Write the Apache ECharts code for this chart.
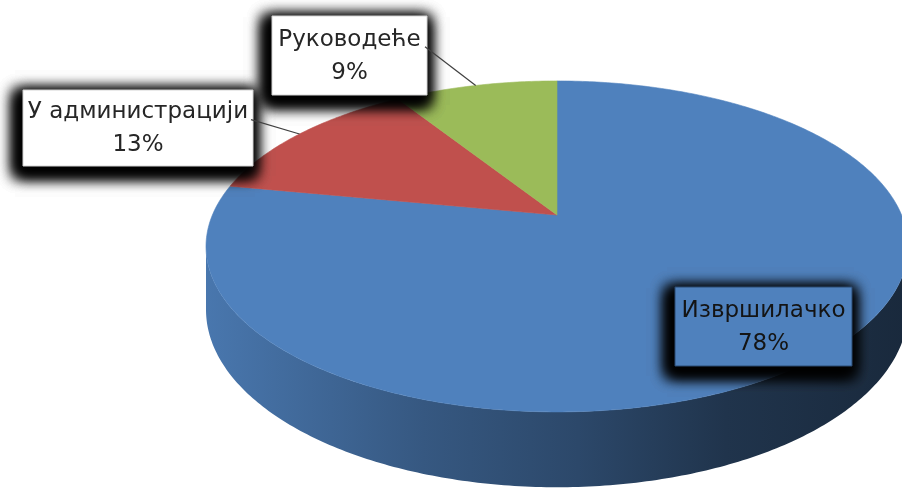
<!DOCTYPE html>
<html>
<head>
<meta charset="utf-8">
<script src="https://cdn.jsdelivr.net/npm/echarts/dist/echarts.min.js"></script>
<style>
  html, body { margin: 0; padding: 0; background: #ffffff; }
  #chart { width: 902px; height: 489px; }
</style>
</head>
<body>
<div id="chart"></div>
<script>
// Data
const categories = ['Извршилачко', 'У администрацији', 'Руководеће'];
const shares = [78, 13, 9];
const sliceColors = ['#4f81bd', '#c0504d', '#9bbb59'];

// Tilted-disc view: centre of the top face, horizontal/vertical radii,
// perspective strength and side-wall height.
const view = { cx: 557, cy: 215, A: 344.6, B: 159.5, k: 0.19, H: 61 };

// Label callout boxes (one per category)
const labelBoxes = [
  { x: 675, y: 287, w: 177, h: 79, fill: '#4f81bd', stroke: '#2b4a72', text: '#141414', leader: false },
  { x: 23,  y: 90,  w: 230, h: 76, fill: '#ffffff', stroke: '#d4d4d4', text: '#262626', leader: true },
  { x: 272, y: 16,  w: 155, h: 79, fill: '#ffffff', stroke: '#d4d4d4', text: '#262626', leader: true }
];

// Side-wall shading (multipliers applied to the slice colour, left -> right)
const wallShade = [[0, 0.92], [0.31, 0.68], [0.53, 0.56], [0.74, 0.40], [1, 0.32]];

const total = shares.reduce((s, v) => s + v, 0);
const starts = [];
shares.reduce((acc, v, i) => { starts[i] = acc; return acc + v; }, 0);
const rows = shares.map((v, i) => ({ name: categories[i], value: [1, starts[i], starts[i] + v, v] }));

function project(u, v, h) {
  const w = 1 - view.k * v;
  return [view.cx + view.A * u / w, view.cy + (view.B * v + h) / w];
}

// unit-circle position of an angle value, taken from the polar axis
function unitAt(api, a) {
  const c = api.coord([0, a]);
  const p = api.coord([1, a]);
  const R = Math.hypot(p[0] - c[0], p[1] - c[1]);
  return [(p[0] - c[0]) / R, (p[1] - c[1]) / R];
}

function rimPoints(api, a0, a1, h) {
  const pts = [];
  const n = Math.max(2, Math.ceil(Math.abs(a1 - a0) / 0.2));
  for (let j = 0; j <= n; j++) {
    const a = a0 + (a1 - a0) * j / n;
    const uv = unitAt(api, a);
    pts.push(project(uv[0], uv[1], h));
  }
  return pts;
}

function shade(hex, f) {
  const n = parseInt(hex.slice(1), 16);
  const r = Math.round(((n >> 16) & 255) * f);
  const g = Math.round(((n >> 8) & 255) * f);
  const b = Math.round((n & 255) * f);
  return 'rgb(' + r + ',' + g + ',' + b + ')';
}

// visible part of the side wall (between the two silhouette points)
const wallFrom = total * Math.acos(-view.k) / (2 * Math.PI);
const wallTo = total - wallFrom;

function renderWall(params, api) {
  const s = Math.max(api.value(1), wallFrom);
  const e = Math.min(api.value(2), wallTo);
  if (e <= s) return null;
  const top = rimPoints(api, s, e, 0);
  const bottom = rimPoints(api, e, s, view.H);
  const color = sliceColors[params.dataIndex];
  const left = project(-1, 0, 0)[0] - 8, right = project(1, 0, 0)[0] + 8;
  return {
    type: 'polygon',
    shape: { points: top.concat(bottom) },
    style: {
      fill: {
        type: 'linear', x: left, y: 0, x2: right, y2: 0, global: true,
        colorStops: wallShade.map(d => ({ offset: d[0], color: shade(color, d[1]) }))
      },
      stroke: null
    }
  };
}

function renderFace(params, api) {
  const s = api.value(1), e = api.value(2);
  const pts = [project(0, 0, 0)].concat(rimPoints(api, s, e, 0));
  const color = sliceColors[params.dataIndex];
  return {
    type: 'polygon',
    shape: { points: pts },
    style: { fill: color, stroke: color, lineWidth: 0.6 }
  };
}

// soft drop shadow: the casting rect sits off-canvas, only its blurred shadow is shifted back in
const SHIFT = 3000;
function shadowLayer(b, z2) {
  return {
    type: 'rect', z2: z2,
    shape: { x: b.x - 8 - SHIFT, y: b.y + 1, width: b.w + 10, height: b.h + 9 },
    style: { fill: '#000000', shadowBlur: 14, shadowColor: 'rgba(0,0,0,1)', shadowOffsetX: SHIFT, shadowOffsetY: 0 }
  };
}

function renderLabel(params, api) {
  const i = params.dataIndex;
  const b = labelBoxes[i];
  const children = [];
  const mid = (api.value(1) + api.value(2)) / 2;
  if (b.leader) {
    const uv = unitAt(api, mid);
    const end = project(uv[0], uv[1], 0);
    children.push({
      type: 'polyline', z2: 30,
      shape: { points: [[b.x + b.w - 2, b.y + b.h * 0.39], end] },
      style: { stroke: '#404040', lineWidth: 1.2, fill: null }
    });
  }
  children.push(shadowLayer(b, 10));
  children.push(shadowLayer(b, 11));
  children.push(shadowLayer(b, 12));
  children.push({
    type: 'rect', z2: 20,
    shape: { x: b.x, y: b.y, width: b.w, height: b.h },
    style: { fill: b.fill, stroke: b.stroke, lineWidth: 1 }
  });
  children.push({
    type: 'text', z2: 25,
    style: {
      text: categories[i] + '\n' + api.value(3) + '%',
      x: b.x + b.w / 2, y: b.y + b.h / 2 + 1,
      align: 'center', verticalAlign: 'middle',
      font: '23px "DejaVu Sans"', lineHeight: 33,
      fill: b.text
    }
  });
  return { type: 'group', children: children };
}

const chart = echarts.init(document.getElementById('chart'), null, { renderer: 'canvas' });
const common = {
  type: 'custom',
  coordinateSystem: 'polar',
  dimensions: ['r', 'start', 'end', 'share'],
  encode: { radius: 'r', angle: ['start', 'end'] },
  data: rows,
  silent: true,
  animation: false
};
chart.setOption({
  backgroundColor: '#ffffff',
  animation: false,
  polar: { center: [view.cx, view.cy], radius: 100 },
  angleAxis: { type: 'value', min: 0, max: total, startAngle: 90, clockwise: true, show: false },
  radiusAxis: { type: 'value', min: 0, max: 1, show: false },
  series: [
    Object.assign({}, common, { name: 'wall', z: 1, renderItem: renderWall }),
    Object.assign({}, common, { name: 'face', z: 2, renderItem: renderFace }),
    Object.assign({}, common, { name: 'labels', z: 3, renderItem: renderLabel })
  ]
});
</script>
</body>
</html>
